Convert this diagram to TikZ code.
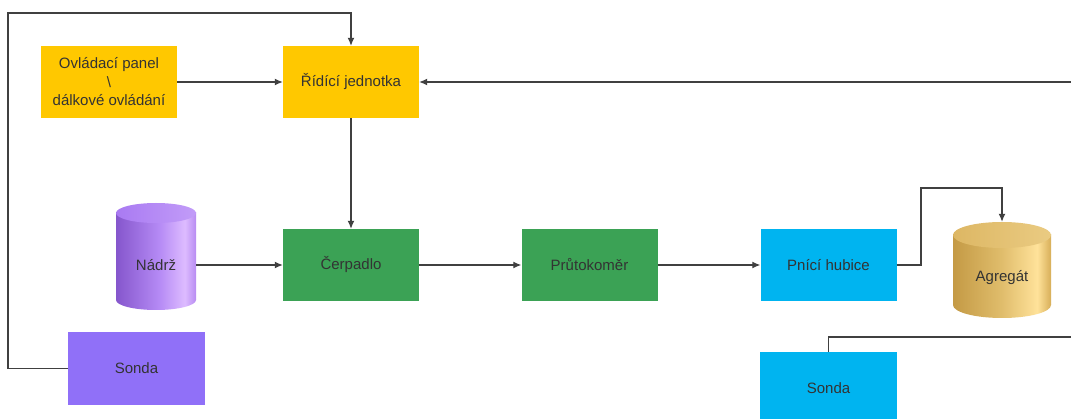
\documentclass[tikz,border=0pt]{standalone}
\usepackage{fontspec}
\setmainfont{Liberation Sans}
\usetikzlibrary{arrows.meta}
\definecolor{cyellow}{HTML}{FFC800}
\definecolor{cgreen}{HTML}{3BA255}
\definecolor{cblue}{HTML}{00B4F0}
\definecolor{cpurple}{HTML}{9070F8}
\definecolor{ctext}{HTML}{333333}
\definecolor{cline}{HTML}{404040}
\definecolor{pa}{HTML}{8556CC}
\definecolor{pb}{HTML}{B58AF5}
\definecolor{pc}{HTML}{DDBBFF}
\definecolor{pd}{HTML}{B88CF2}
\definecolor{ptop}{HTML}{A97AF2}
\definecolor{ptop2}{HTML}{C29CF8}
\definecolor{ga}{HTML}{C49A45}
\definecolor{gb}{HTML}{E0BD6C}
\definecolor{gc}{HTML}{FFE29A}
\definecolor{gd}{HTML}{D7AE58}
\definecolor{gtop}{HTML}{DDB764}
\definecolor{gtop2}{HTML}{EACB82}
\pgfdeclarehorizontalshading{purplecyl}{100bp}{color(0bp)=(pa); color(25bp)=(pa); color(52bp)=(pb); color(68bp)=(pc); color(75bp)=(pd); color(100bp)=(pd)}
\pgfdeclarehorizontalshading{purpletop}{100bp}{color(0bp)=(ptop); color(25bp)=(ptop); color(75bp)=(ptop2); color(100bp)=(ptop2)}
\pgfdeclarehorizontalshading{goldcyl}{100bp}{color(0bp)=(ga); color(25bp)=(ga); color(50bp)=(gb); color(68bp)=(gc); color(75bp)=(gd); color(100bp)=(gd)}
\pgfdeclarehorizontalshading{goldtop}{100bp}{color(0bp)=(gtop); color(25bp)=(gtop); color(75bp)=(gtop2); color(100bp)=(gtop2)}
\begin{document}
\begin{tikzpicture}[x=1pt,y=-1pt,
  box/.style={rectangle, minimum width=136pt, minimum height=72pt, inner sep=0pt,
    text=ctext, font=\fontsize{15}{18.5}\selectfont, align=center},
  lbl/.style={text=ctext, font=\fontsize{15}{18.5}\selectfont, inner sep=0pt},
  conn/.style={draw=cline, line width=1.2pt},
  arr/.style={conn, -{Latex[length=8pt,width=7pt]}}]
\clip (0,0) rectangle (1071,419);
\fill[white] (0,0) rectangle (1071,419);
% boxes
\node[box, fill=cyellow] (ovl) at (109,82) {Ovládací panel\\\textbackslash\\dálkové ovládání};
\node[box, fill=cyellow] (rid) at (351,82) {Řídící jednotka};
\node[box, fill=cgreen] (cerp) at (351,265) {Čerpadlo};
\node[box, fill=cgreen] (prut) at (589.5,265) {Průtokoměr};
\node[box, fill=cblue] (pnici) at (828.5,265) {Pnící hubice};
\node[box, fill=cpurple, minimum width=137pt, minimum height=73pt] (sonda1) at (136.5,368.5) {Sonda};
\node[box, fill=cblue, minimum width=137pt] (sonda2) at (828.5,388) {};
\node[lbl] (sonda2t) at (828.5,388) {Sonda};
% Nadrz cylinder
\path[shading=purplecyl] (116,213) rectangle (196,300);
\path[shading=purplecyl] (156,300) ellipse [x radius=40, y radius=10];
\path[shading=purpletop] (156,213) ellipse [x radius=40, y radius=10];
\node[rectangle, minimum width=80pt, minimum height=107pt, inner sep=0pt] (nadrz) at (156,256.5) {};
\node[lbl] (nadrzt) at (156,265) {Nádrž};
% Agregat cylinder
\path[shading=goldcyl] (953,235) rectangle (1051,305);
\path[shading=goldcyl] (1002,305) ellipse [x radius=49, y radius=13];
\path[shading=goldtop] (1002,235) ellipse [x radius=49, y radius=13];
\node[rectangle, minimum width=98pt, minimum height=96pt, inner sep=0pt] (agr) at (1002,270) {};
\node[lbl] (agrt) at (1002,278) {Agregát};
% coordinates
\coordinate (tl) at (8,13);
\coordinate (e1) at (1071,82);
\coordinate (e2) at (1071,337);
\coordinate (kn) at (921,188);
% connectors
\draw[arr] (sonda1.west) -| (tl) -| (rid.north);
\draw[arr] (ovl.east) -- (rid.west);
\draw[arr] (e1) -- (rid.east);
\draw[arr] (rid.south) -- (cerp.north);
\draw[arr] (nadrz.east |- cerp.west) -- (cerp.west);
\draw[arr] (cerp.east) -- (prut.west);
\draw[arr] (prut.east) -- (pnici.west);
\draw[arr] (pnici.east) -| (kn) -| (agr.north);
\draw[conn] (sonda2.north) |- (e2);
\end{tikzpicture}
\end{document}
